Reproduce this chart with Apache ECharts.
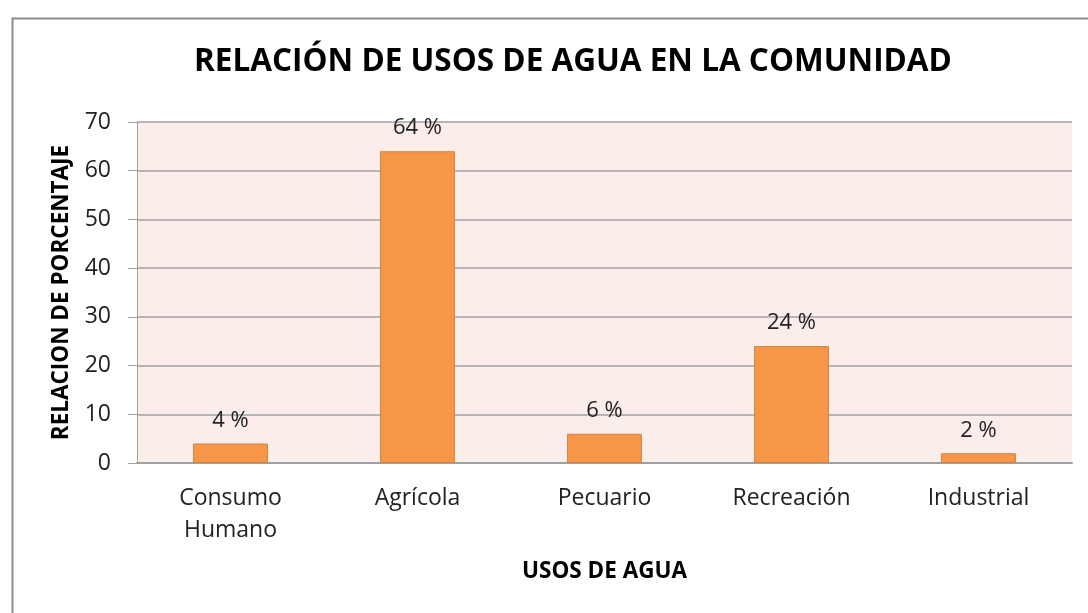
<!DOCTYPE html>
<html>
<head>
<meta charset="utf-8">
<script src="https://cdn.jsdelivr.net/npm/echarts@6/dist/echarts.min.js"></script>
<style>
  html, body { margin: 0; padding: 0; background: #fff; }
  #chart { width: 1088px; height: 613px; }
</style>
</head>
<body>
<div id="chart"></div>
<script>
  // usos de agua
  var categorias = ['Consumo\nHumano', 'Agrícola', 'Pecuario', 'Recreación', 'Industrial'];
  var porcentajes = [4, 64, 6, 24, 2];
  var yTicks = [0, 10, 20, 30, 40, 50, 60, 70];

  var fuente = '"Open Sans", "Noto Sans", sans-serif';
  var chart = echarts.init(document.getElementById('chart'));

  var option = {
    backgroundColor: '#ffffff',
    animation: false,
    title: {
      text: 'RELACIÓN DE USOS DE AGUA EN LA COMUNIDAD',
      left: 568,
      textAlign: 'center',
      top: 41,
      textStyle: {
        fontFamily: fuente,
        fontWeight: 'bold',
        fontSize: 31.5,
        color: '#000'
      }
    },
    graphic: [{
      // marco exterior (solo se ven lados superior e izquierdo)
      type: 'rect',
      left: 10,
      top: 16,
      shape: { width: 1200, height: 800 },
      style: { fill: 'none', stroke: '#8c8c8c', lineWidth: 2 },
      silent: true
    }],
    grid: {
      left: 137,
      right: 16,
      top: 122,
      bottom: 150,
      show: true,
      backgroundColor: '#fbede9',
      borderWidth: 0
    },
    xAxis: {
      type: 'category',
      data: categorias,
      name: 'USOS DE AGUA',
      nameLocation: 'middle',
      nameGap: 97,
      nameTextStyle: {
        fontFamily: fuente,
        fontWeight: 'bold',
        fontSize: 22.5,
        color: '#000'
      },
      axisLine: { lineStyle: { color: '#a0a0a0', width: 2 } },
      axisTick: { show: false },
      axisLabel: {
        fontFamily: fuente,
        fontSize: 23,
        color: '#222',
        margin: 19,
        lineHeight: 32
      }
    },
    yAxis: {
      type: 'value',
      min: yTicks[0],
      max: yTicks[yTicks.length - 1],
      interval: 10,
      name: 'RELACION DE PORCENTAJE',
      nameLocation: 'middle',
      nameGap: 64,
      nameTextStyle: {
        fontFamily: fuente,
        fontWeight: 'bold',
        fontSize: 22.5,
        color: '#000'
      },
      axisLine: { show: true, lineStyle: { color: '#a0a0a0', width: 1 } },
      axisTick: { show: true, length: 9, lineStyle: { color: '#a0a0a0' } },
      splitLine: { lineStyle: { color: '#a0a0a0', width: 1.5 } },
      axisLabel: {
        fontFamily: fuente,
        fontSize: 23,
        color: '#222',
        margin: 26
      }
    },
    series: [{
      type: 'bar',
      data: porcentajes,
      barWidth: '40%',
      itemStyle: {
        color: '#f79646',
        borderColor: '#d0803f',
        borderWidth: 1
      },
      label: {
        show: true,
        position: 'top',
        distance: 12,
        formatter: '{c} %',
        fontFamily: fuente,
        fontSize: 22,
        color: '#222'
      }
    }]
  };

  chart.setOption(option);
</script>
</body>
</html>
